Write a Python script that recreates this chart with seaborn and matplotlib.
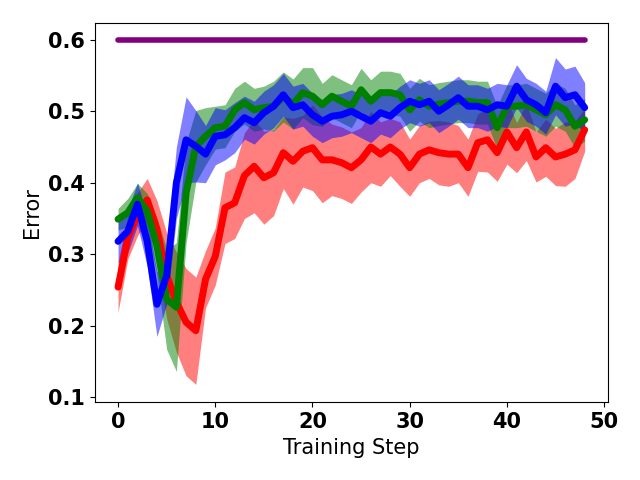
import numpy as np
import pandas as pd
import matplotlib
matplotlib.use("Agg")
import matplotlib.pyplot as plt
import seaborn as sns

# Data
steps = list(range(49))

red_mean = [0.254, 0.323, 0.356, 0.376, 0.335, 0.270, 0.233, 0.205, 0.193, 0.265,
            0.297, 0.365, 0.372, 0.410, 0.423, 0.407, 0.414, 0.442, 0.430, 0.444,
            0.449, 0.432, 0.432, 0.428, 0.421, 0.432, 0.450, 0.440, 0.450, 0.440,
            0.421, 0.440, 0.446, 0.442, 0.440, 0.440, 0.421, 0.456, 0.460, 0.442,
            0.471, 0.449, 0.471, 0.436, 0.449, 0.436, 0.440, 0.446, 0.474]
red_std = [0.035, 0.030, 0.030, 0.030, 0.040, 0.060, 0.070, 0.075, 0.075, 0.040,
           0.040, 0.050, 0.050, 0.060, 0.065, 0.065, 0.060, 0.050, 0.060, 0.050,
           0.060, 0.060, 0.050, 0.050, 0.050, 0.045, 0.050, 0.045, 0.040, 0.045,
           0.040, 0.040, 0.040, 0.045, 0.045, 0.040, 0.040, 0.040, 0.045, 0.040,
           0.045, 0.035, 0.040, 0.035, 0.040, 0.040, 0.045, 0.040, 0.030]

green_mean = [0.349, 0.358, 0.379, 0.360, 0.311, 0.237, 0.226, 0.386, 0.451, 0.465,
              0.477, 0.479, 0.502, 0.512, 0.502, 0.505, 0.507, 0.520, 0.510, 0.526,
              0.521, 0.509, 0.521, 0.514, 0.507, 0.530, 0.514, 0.526, 0.526, 0.523,
              0.502, 0.516, 0.507, 0.510, 0.512, 0.514, 0.514, 0.512, 0.512, 0.477,
              0.507, 0.507, 0.509, 0.502, 0.495, 0.509, 0.502, 0.479, 0.488]
green_std = [0.015, 0.020, 0.020, 0.025, 0.040, 0.070, 0.090, 0.070, 0.050, 0.040,
             0.030, 0.030, 0.030, 0.030, 0.030, 0.030, 0.035, 0.035, 0.035, 0.035,
             0.040, 0.030, 0.030, 0.030, 0.030, 0.030, 0.030, 0.030, 0.030, 0.030,
             0.030, 0.030, 0.030, 0.030, 0.030, 0.030, 0.030, 0.030, 0.030, 0.030,
             0.030, 0.030, 0.030, 0.030, 0.030, 0.030, 0.030, 0.030, 0.030]

blue_mean = [0.318, 0.332, 0.370, 0.318, 0.230, 0.270, 0.400, 0.460, 0.451, 0.440,
             0.465, 0.467, 0.477, 0.491, 0.484, 0.498, 0.507, 0.523, 0.505, 0.509,
             0.495, 0.486, 0.493, 0.495, 0.500, 0.493, 0.486, 0.498, 0.493, 0.505,
             0.514, 0.509, 0.514, 0.500, 0.509, 0.519, 0.507, 0.507, 0.502, 0.509,
             0.507, 0.535, 0.516, 0.509, 0.498, 0.535, 0.519, 0.523, 0.505]
blue_std = [0.030, 0.030, 0.030, 0.035, 0.045, 0.040, 0.050, 0.060, 0.050, 0.040,
            0.040, 0.035, 0.035, 0.030, 0.030, 0.030, 0.030, 0.030, 0.030, 0.030,
            0.030, 0.030, 0.030, 0.030, 0.030, 0.030, 0.030, 0.030, 0.030, 0.030,
            0.030, 0.030, 0.030, 0.030, 0.030, 0.030, 0.030, 0.030, 0.030, 0.030,
            0.030, 0.030, 0.030, 0.030, 0.030, 0.040, 0.040, 0.040, 0.035]

baseline = [0.6] * len(steps)

# Set style (plain black text like default matplotlib)
sns.set_style("ticks", {
    "text.color": "black",
    "axes.labelcolor": "black",
    "axes.edgecolor": "black",
    "xtick.color": "black",
    "ytick.color": "black",
})
plt.rcParams['font.family'] = ['DejaVu Sans']

fig, ax = plt.subplots(figsize=(6.4, 4.8), dpi=100)

series = [
    (red_mean, red_std, 'red'),
    (green_mean, green_std, 'green'),
    (blue_mean, blue_std, 'blue'),
]

for mean, std, color in series:
    m = np.array(mean)
    s = np.array(std)
    ax.fill_between(steps, m - s, m + s, color=color, alpha=0.5, linewidth=0)
    sns.lineplot(x=steps, y=mean, color=color, linewidth=5, ax=ax)

sns.lineplot(x=steps, y=baseline, color='purple', linewidth=4, ax=ax)

ax.set_xlabel('Training Step', fontsize=15)
ax.set_ylabel('Error', fontsize=15)
ax.set_xticks([0, 10, 20, 30, 40, 50])
ax.set_yticks([0.1, 0.2, 0.3, 0.4, 0.5, 0.6])
ax.set_xlim(-2.4, 50.4)
ax.set_ylim(0.093, 0.624)
ax.tick_params(length=3.5, width=0.8)
for lbl in ax.get_xticklabels() + ax.get_yticklabels():
    lbl.set_fontsize(15)
    lbl.set_fontweight('bold')

plt.subplots_adjust(left=0.148, right=0.95, top=0.953, bottom=0.162)
plt.savefig('out.png', dpi=100)
